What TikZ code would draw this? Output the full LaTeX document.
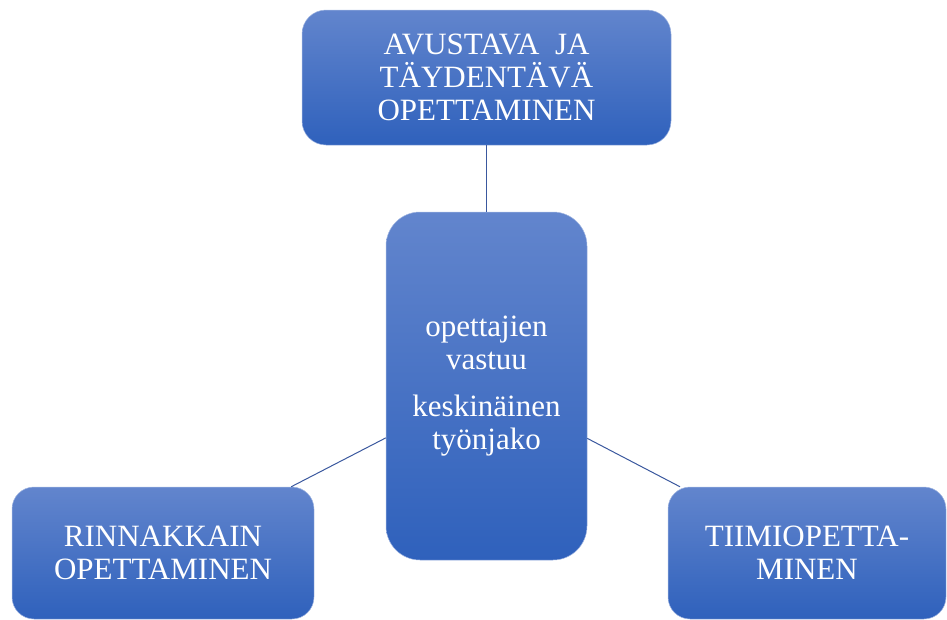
\documentclass[tikz,border=0pt]{standalone}
\usepackage{fontspec}
\setmainfont{Liberation Serif}
\definecolor{boxtop}{RGB}{98,133,205}
\definecolor{boxbot}{RGB}{47,97,188}
\definecolor{linkblue}{RGB}{58,88,158}

\begin{document}
\begin{tikzpicture}[x=1pt,y=-1pt,
    smartbox/.style={rectangle, rounded corners=24pt, top color=boxtop, bottom color=boxbot,
      draw=boxtop!60!white, line width=0.5pt, text=white, align=center, inner sep=0pt,
      font=\fontsize{31}{33}\selectfont},
    link/.style={draw=linkblue, line width=1pt}]
    \useasboundingbox (0,0) rectangle (947,619);
    \node[smartbox, minimum width=369pt, minimum height=135pt] (avustava) at (486.5,77.5)
      {AVUSTAVA~~JA\\TÄYDENTÄVÄ\\OPETTAMINEN};
    \node[smartbox, rounded corners=34pt, minimum width=201pt, minimum height=348pt] (keskus) at (486.5,386)
      {opettajien\\vastuu\\[14pt]keskinäinen\\työnjako};
    \node[smartbox, rounded corners=22pt, minimum width=302pt, minimum height=132pt] (rinnakkain) at (163,553)
      {RINNAKKAIN\\OPETTAMINEN};
    \node[smartbox, rounded corners=22pt, minimum width=278pt, minimum height=132pt] (tiimi) at (807,553)
      {TIIMIOPETTA-\\MINEN};
    \draw[link] (keskus) -- (avustava);
    \draw[link] (keskus) -- (rinnakkain);
    \draw[link] (keskus) -- (tiimi);
\end{tikzpicture}
\end{document}
